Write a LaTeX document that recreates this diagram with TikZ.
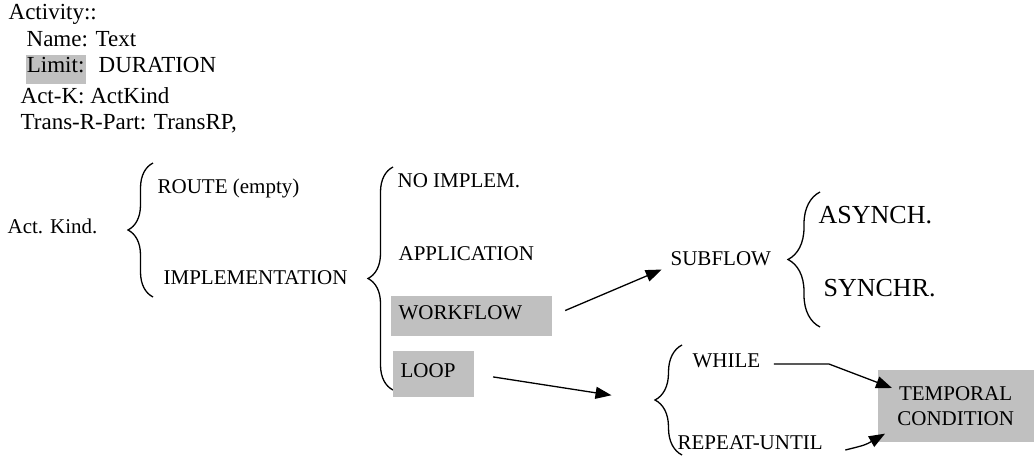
\documentclass[tikz,border=0pt]{standalone}
\usepackage{fontspec}
\setmainfont{Liberation Serif}
\usepackage{xcolor}
\usetikzlibrary{arrows.meta,decorations.pathreplacing}
\definecolor{boxgray}{HTML}{C0C0C0}

\begin{document}
\begin{tikzpicture}[x=1pt,y=-1pt,line width=1.3pt,every node/.style={inner sep=0pt,text height=1.47ex,text depth=0pt,anchor=west,font=\fontsize{21}{25}\selectfont},top/.style={font=\fontsize{23}{27}\selectfont},big/.style={font=\fontsize{26}{30}\selectfont},shaded/.style={fill=boxgray,inner xsep=8pt,align=left},brc/.style={decorate,decoration={brace,amplitude=#1}},arr/.style={-{Triangle[length=16pt,width=12pt]}}]
    \useasboundingbox (0,0) rectangle (1034,458);
    \node[top](act) at (8,16) {Activity::};
    \node[top](nm) at (26,43) {Name: Text};
    \node[top,fill=boxgray,minimum width=60pt,minimum height=29pt](lim) at (25,69.5) {Limit:};
    \node[top](dur) at (98,69.5) {DURATION};
    \node[top](ak) at (20,100) {Act-K: ActKind};
    \node[top](trp) at (20,126) {Trans-R-Part: TransRP,};
    \node(kind) at (7,230) {Act. Kind.};
    \draw[brc=25pt] (153,297) -- (153,163);
    \node(route) at (157,190) {ROUTE (empty)};
    \node(impl) at (163,281) {IMPLEMENTATION};
    \draw[brc=25pt] (393,390) -- (393,167);
    \node(noimp) at (397,184) {NO IMPLEM.};
    \node(app) at (398,257) {APPLICATION};
    \node[shaded,text width=145pt,minimum height=40pt](wf) at (390,316) {WORKFLOW};
    \node[shaded,text width=65pt,minimum height=46pt](loop) at (392,374) {LOOP};
    \node(sub) at (670,262) {SUBFLOW};
    \draw[brc=32pt] (820,327) -- (820,192);
    \node[big](asy) at (818,220) {ASYNCH.};
    \node[big](syn) at (823,293) {SYNCHR.};
    \draw[brc=27pt] (682,455) -- (682,345);
    \coordinate(lptip) at (655,402);
    \node(wh) at (692,364) {WHILE};
    \node(rep) at (677,446) {REPEAT-UNTIL};
    \node[shaded,align=center,text width=140pt,minimum height=72pt,text height={},text depth={}](tc) at (877,406) {TEMPORAL\\CONDITION};
    \draw[arr,shorten <=14pt,shorten >=9pt] (wf.east) -- (sub.south west);
    \draw[arr,shorten <=19pt,shorten >=44pt] (loop.east) -- (lptip);
    \draw[arr] ([xshift=13pt]wh.east) -- ++(55,0) -- ([xshift=15pt,yshift=18pt]tc.west);
    \draw[arr] ([xshift=22pt,yshift=-4pt]rep.east) .. controls +(20,-5) .. ([xshift=8pt,yshift=9pt]tc.south west);
  \end{tikzpicture}
\end{document}
